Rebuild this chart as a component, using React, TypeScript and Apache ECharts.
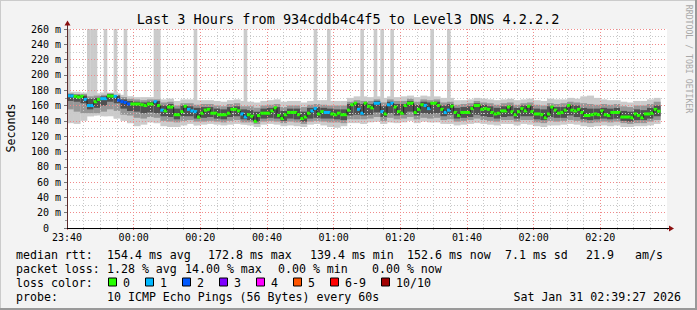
import React, { useEffect, useRef } from "react";
import * as echarts from "echarts";

// ---------- data ----------
const titleText = "Last 3 Hours from 934cddb4c4f5 to Level3 DNS 4.2.2.2";
const xTickLabels = ["23:40", "00:00", "00:20", "00:40", "01:00", "01:20", "01:40", "02:00", "02:20"];

// median rtt per minute (ms), minute 0 = 23:40
const medianMs = [
  172.8, 172.5, 172, 171, 172, 168, 160, 160, 165, 168,
  169, 169, 172.6, 172.3, 172, 167, 165, 164, 162, 162,
  162, 162, 161, 160, 162, 162, 165, 160, 154, 153,
  158, 158, 148, 148, 152, 159, 155, 153, 152, 145,
  150, 154, 155, 150, 150, 148, 148, 148, 150, 155,
  155, 153, 149, 145, 148, 146, 139.4, 147, 150, 150,
  150, 153, 157, 147, 143, 148, 151, 151, 151, 148,
  143, 145, 150, 153, 156, 149, 152, 151, 151, 149,
  148, 150, 148, 148, 154, 161, 163, 155, 150, 163,
  159, 157, 163, 163, 152, 149, 161, 163, 158, 152,
  150, 160, 163, 163, 151, 155, 161, 160, 156, 163,
  163, 160, 155, 151, 154, 159, 151, 147, 151, 151,
  151, 156, 160, 160, 155, 156, 155, 151, 149, 150,
  153, 153, 158, 152, 148, 152, 156, 153, 159, 152,
  149, 149, 148, 144, 149, 158, 154, 150, 151, 154,
  160, 154, 153, 155, 151, 147, 147, 148, 149, 148,
  153, 148, 147, 151, 151, 151, 145, 145, 145, 144,
  149, 147, 144, 149, 149, 150, 155, 152.6,
];
// minutes with 1 and 2 lost pings
const lossOneMinutes = [0, 1, 5, 6, 7, 10, 11, 14, 26, 28, 36, 37, 38, 52, 53, 73, 74, 77, 78, 87, 88, 92, 93, 94, 96, 97, 107, 108, 113, 114];
const lossTwoMinutes = [15, 16, 17, 18];
// minutes where the slowest ping went off the scale
const spikeMinutes = [0, 6, 7, 8, 11, 14, 17, 26, 27, 38, 53, 74, 78, 88, 92, 94, 97, 109, 114];

// smoke (ping spread) per 2-minute block
const smokeLightHi = [
  178, 178, 177, 176, 176, 177, 177, 176, 174, 172,
  171, 171, 171, 170, 168, 169, 166, 168, 168, 167,
  167, 167, 166, 165, 167, 168, 166, 165, 164, 166,
  167, 168, 165, 166, 166, 164, 166, 167, 167, 166,
  166, 166, 170, 172, 172, 171, 172, 170, 172, 171,
  172, 173, 171, 173, 172, 172, 170, 170, 167, 167,
  168, 170, 169, 168, 167, 168, 169, 167, 168, 169,
  167, 166, 169, 168, 168, 170, 169, 172, 173, 170,
  168, 167, 167, 165, 164, 166, 166, 168, 170,
];
const smokeMidHi = [
  176, 175, 175, 172, 173, 174, 176, 174, 171, 169,
  168, 167, 168, 168, 164, 165, 160, 163, 163, 161,
  162, 162, 160, 159, 162, 163, 159, 159, 157, 160,
  161, 162, 158, 160, 160, 158, 161, 162, 161, 160,
  160, 160, 165, 167, 166, 166, 168, 164, 168, 166,
  166, 169, 165, 168, 167, 168, 164, 165, 161, 162,
  163, 166, 164, 163, 161, 163, 164, 161, 163, 164,
  161, 160, 163, 162, 163, 165, 164, 163, 162, 161,
  162, 161, 162, 159, 158, 160, 160, 162, 165,
];
const smokeDarkHi = [
  175, 174, 173, 169, 170, 172, 175, 173, 168, 166,
  165, 164, 165, 166, 160, 162, 156, 160, 159, 157,
  158, 158, 156, 155, 158, 159, 155, 154, 152, 156,
  157, 158, 153, 156, 156, 152, 157, 158, 157, 156,
  155, 155, 162, 163, 162, 162, 166, 159, 165, 162,
  162, 166, 161, 165, 164, 165, 160, 162, 157, 158,
  159, 163, 161, 159, 157, 159, 160, 157, 160, 160,
  156, 155, 159, 158, 158, 161, 160, 157, 156, 156,
  157, 156, 157, 153, 152, 155, 154, 157, 160,
];
const smokeDarkLo = [
  166, 165, 163, 155, 157, 160, 165, 163, 156, 153,
  152, 150, 151, 150, 146, 145, 142, 146, 146, 143,
  144, 145, 143, 142, 145, 146, 142, 141, 139, 143,
  144, 143, 140, 143, 142, 139, 143, 144, 143, 143,
  142, 141, 147, 148, 147, 148, 151, 145, 150, 147,
  148, 152, 147, 150, 149, 150, 146, 148, 143, 144,
  145, 148, 146, 145, 143, 145, 146, 143, 146, 146,
  142, 141, 145, 144, 144, 147, 145, 142, 141, 142,
  143, 142, 143, 140, 139, 141, 141, 143, 146,
];
const smokeMidLo = [
  155, 152, 150, 150, 150, 152, 155, 153, 148, 147,
  144, 143, 145, 144, 140, 139, 138, 140, 141, 139,
  139, 140, 139, 138, 140, 141, 138, 138, 136, 139,
  140, 139, 137, 139, 138, 136, 139, 140, 139, 138,
  138, 137, 142, 142, 142, 143, 145, 140, 144, 142,
  143, 145, 142, 144, 143, 144, 141, 142, 139, 140,
  141, 143, 141, 140, 139, 141, 141, 139, 141, 141,
  138, 137, 140, 139, 140, 141, 140, 138, 137, 138,
  139, 138, 139, 137, 136, 137, 137, 139, 141,
];
const smokeLightLo = [
  137, 136, 140, 146, 147, 146, 146, 143, 140, 137,
  133, 135, 138, 137, 133, 132, 132, 134, 136, 134,
  135, 136, 135, 134, 135, 136, 135, 134, 132, 135,
  136, 135, 133, 134, 133, 132, 135, 136, 134, 132,
  131, 133, 137, 137, 136, 138, 139, 136, 138, 137,
  138, 140, 137, 139, 138, 138, 136, 136, 134, 135,
  136, 137, 136, 135, 134, 136, 136, 134, 136, 135,
  133, 132, 134, 134, 135, 136, 135, 133, 132, 133,
  134, 133, 134, 132, 132, 133, 133, 134, 136,
];

const lossLabels = ["0", "1", "2", "3", "4", "5", "6-9", "10/10"];
const lossColors = ["#26ff00", "#00b8ff", "#0059ff", "#7e00ff", "#ff00ff", "#ff5500", "#ff0000", "#a10000"];

const rttStats = ["154.4 ms avg", "172.8 ms max", "139.4 ms min", "152.6 ms now", "7.1 ms sd", "21.9", "am/s"];
const lossStats = ["1.28 % avg", "14.00 % max", "0.00 % min", "0.00 % now"];
const probeText = "10 ICMP Echo Pings (56 Bytes) every 60s";
const dateText = "Sat Jan 31 02:39:27 2026";

// ---------- layout ----------
const MONO = '"DejaVu Sans Mono", monospace';
const LEG_FONT = `11.6px ${MONO}`;
const rttX = [107, 208, 310, 407, 505, 586, 635];
const lossX = [107, 185, 278, 372];
const LINE_Y = [254.5, 268.5, 282.5, 296.5];
const STEP_MIN = 2;

function buildOption() {
  const lossOf = (i: number) => (lossTwoMinutes.includes(i) ? 2 : lossOneMinutes.includes(i) ? 1 : 0);
  const medianData = medianMs.map((v, i) => [i, i + 1, v, i > 0 ? medianMs[i - 1] : v, lossOf(i)]);
  const smokeData = smokeLightHi.map((_, k) => [
    k * STEP_MIN, (k + 1) * STEP_MIN,
    smokeLightLo[k], smokeLightHi[k], smokeMidLo[k], smokeMidHi[k], smokeDarkLo[k], smokeDarkHi[k],
  ]);
  const spikeData = spikeMinutes.map((m) => [m, m + 1, smokeLightLo[Math.floor(m / STEP_MIN)]]);

  const texts: any[] = [];
  const addText = (text: string, x: number, y: number, font = LEG_FONT, fill = "#000", align = "left", rotation = 0) =>
    texts.push({
      type: "text", x, y, rotation, z: 100,
      style: { text, x: 0, y: 0, font, fill, align, textAlign: align, verticalAlign: "middle", textVerticalAlign: "middle" },
    });

  addText(titleText, 348, 19, `13.5px ${MONO}`, "#000", "center");
  addText("Seconds", 11, 128, `11.6px ${MONO}`, "#000", "center", Math.PI / 2);
  addText("RRDTOOL / TOBI OETIKER", 688.5, 59, `8.2px ${MONO}`, "#a8a8a8", "center", -Math.PI / 2);

  addText("median rtt:", 16, LINE_Y[0]);
  rttStats.forEach((s, i) => addText(s, rttX[i], LINE_Y[0]));
  addText("packet loss:", 16, LINE_Y[1]);
  lossStats.forEach((s, i) => addText(s, lossX[i], LINE_Y[1]));
  addText("loss color:", 16, LINE_Y[2]);
  let bx = 108;
  const boxes: any[] = [];
  lossLabels.forEach((lab, i) => {
    boxes.push({
      type: "rect", z: 100,
      shape: { x: bx + 0.5, y: LINE_Y[2] - 4.5, width: 8, height: 8 },
      style: { fill: lossColors[i], stroke: "#000", lineWidth: 1 },
    });
    addText(lab, bx + 15, LINE_Y[2]);
    bx = bx + 15 + lab.length * 7 + 15;
  });
  addText("probe:", 16, LINE_Y[3]);
  addText(probeText, 107, LINE_Y[3]);
  addText(dateText, 681, LINE_Y[3], LEG_FONT, "#000", "right");

  const frame = [
    { type: "rect", z: 100, shape: { x: 0, y: 0, width: 697, height: 1 }, style: { fill: "#cbcbcb" } },
    { type: "rect", z: 100, shape: { x: 0, y: 0, width: 1, height: 310 }, style: { fill: "#cbcbcb" } },
    { type: "rect", z: 100, shape: { x: 0, y: 308, width: 697, height: 2 }, style: { fill: "#999999" } },
    { type: "rect", z: 100, shape: { x: 695, y: 0, width: 2, height: 310 }, style: { fill: "#999999" } },
    { type: "line", z: 100, shape: { x1: 67.5, y1: 228, x2: 67.5, y2: 25 }, style: { stroke: "#5c2a2a", lineWidth: 1 } },
    { type: "polygon", z: 100, shape: { points: [[64.5, 25.5], [67.5, 20.5], [70.5, 25.5]] }, style: { fill: "#8b1010" } },
    { type: "line", z: 100, shape: { x1: 67, y1: 228.5, x2: 670, y2: 228.5 }, style: { stroke: "#000", lineWidth: 1 } },
    { type: "polygon", z: 100, shape: { points: [[669, 225.5], [674, 228.5], [669, 231.5]] }, style: { fill: "#8b1010" } },
  ];

  const gridDot = [1, 2];

  return {
    animation: false,
    backgroundColor: "#f3f3f3",
    grid: { left: 67, top: 29, width: 600, height: 199, show: true, backgroundColor: "#ffffff", borderWidth: 0 },
    xAxis: {
      type: "value", min: 0, max: 180, interval: 20, z: 3,
      axisLine: { show: false },
      axisTick: { show: true, length: 2, lineStyle: { color: "#e07070" } },
      minorTick: { show: true, splitNumber: 4, length: 2, lineStyle: { color: "#b8b8b8" } },
      axisLabel: {
        formatter: (v: number) => xTickLabels[Math.round(v / 20)] ?? "",
        fontFamily: MONO, fontSize: 10, color: "#000", margin: 4, showMaxLabel: false,
      },
      splitLine: { show: true, showMinLine: true, showMaxLine: false, lineStyle: { color: "#f08a8a", type: gridDot, width: 1 } },
      minorSplitLine: { show: true, lineStyle: { color: "#c8c8c8", type: gridDot, width: 1 } },
    },
    yAxis: {
      type: "value", min: 0, max: 260, interval: 20, z: 3,
      axisLine: { show: false },
      axisTick: { show: true, length: 3, lineStyle: { color: "#777" } },
      minorTick: { show: true, splitNumber: 2, length: 2, lineStyle: { color: "#999" } },
      axisLabel: {
        formatter: (v: number) => (v === 0 ? "{z|0}" : `${v} m`),
        fontFamily: MONO, fontSize: 10, color: "#000", margin: 6,
        rich: { z: { fontFamily: MONO, fontSize: 10, color: "#000", padding: [0, 12, 0, 0] } },
      },
      splitLine: { show: true, showMinLine: false, lineStyle: { color: "#f08a8a", type: gridDot, width: 1 } },
      minorSplitLine: { show: true, lineStyle: { color: "#c8c8c8", type: gridDot, width: 1 } },
    },
    series: [
      {
        type: "custom", name: "spikes", z: 1, data: spikeData,
        renderItem: (_p: any, api: any) => {
          const a = api.coord([api.value(0), 260]);
          const b = api.coord([api.value(1), api.value(2)]);
          return { type: "rect", shape: { x: a[0], y: a[1], width: b[0] - a[0] + 0.3, height: b[1] - a[1] }, style: { fill: "#cbcbcb" } };
        },
      },
      {
        type: "custom", name: "smoke", z: 2, data: smokeData,
        renderItem: (_p: any, api: any) => {
          const x0 = api.value(0), x1 = api.value(1);
          const layers: [number, number, string][] = [[2, 3, "#cbcbcb"], [4, 5, "#969696"], [6, 7, "#505050"]];
          return {
            type: "group",
            children: layers.map(([lo, hi, c]) => {
              const a = api.coord([x0, api.value(hi)]);
              const b = api.coord([x1, api.value(lo)]);
              return { type: "rect", shape: { x: a[0], y: a[1], width: b[0] - a[0] + 0.3, height: b[1] - a[1] }, style: { fill: c } };
            }),
          };
        },
      },
      {
        type: "custom", name: "median", z: 5, data: medianData,
        renderItem: (_p: any, api: any) => {
          const x0 = api.value(0), x1 = api.value(1), v = api.value(2), pv = api.value(3), loss = api.value(4);
          const a = api.coord([x0, v]);
          const b = api.coord([x1, v]);
          const p = api.coord([x0, pv]);
          return {
            type: "group",
            children: [
              { type: "line", shape: { x1: a[0], y1: p[1], x2: a[0], y2: a[1] }, style: { stroke: "#202020", lineWidth: 1 } },
              { type: "rect", shape: { x: a[0], y: a[1] - 1.5, width: b[0] - a[0] + 0.2, height: 3 }, style: { fill: lossColors[loss] } },
            ],
          };
        },
      },
    ],
    graphic: [...frame, ...boxes, ...texts],
  };
}

export default function App() {
  const ref = useRef<HTMLDivElement>(null);
  useEffect(() => {
    document.body.style.margin = "0";
    const chart = echarts.init(ref.current!, null, { renderer: "svg" });
    chart.setOption(buildOption() as any);
    return () => chart.dispose();
  }, []);
  return <div ref={ref} style={{ width: 697, height: 310 }} />;
}
